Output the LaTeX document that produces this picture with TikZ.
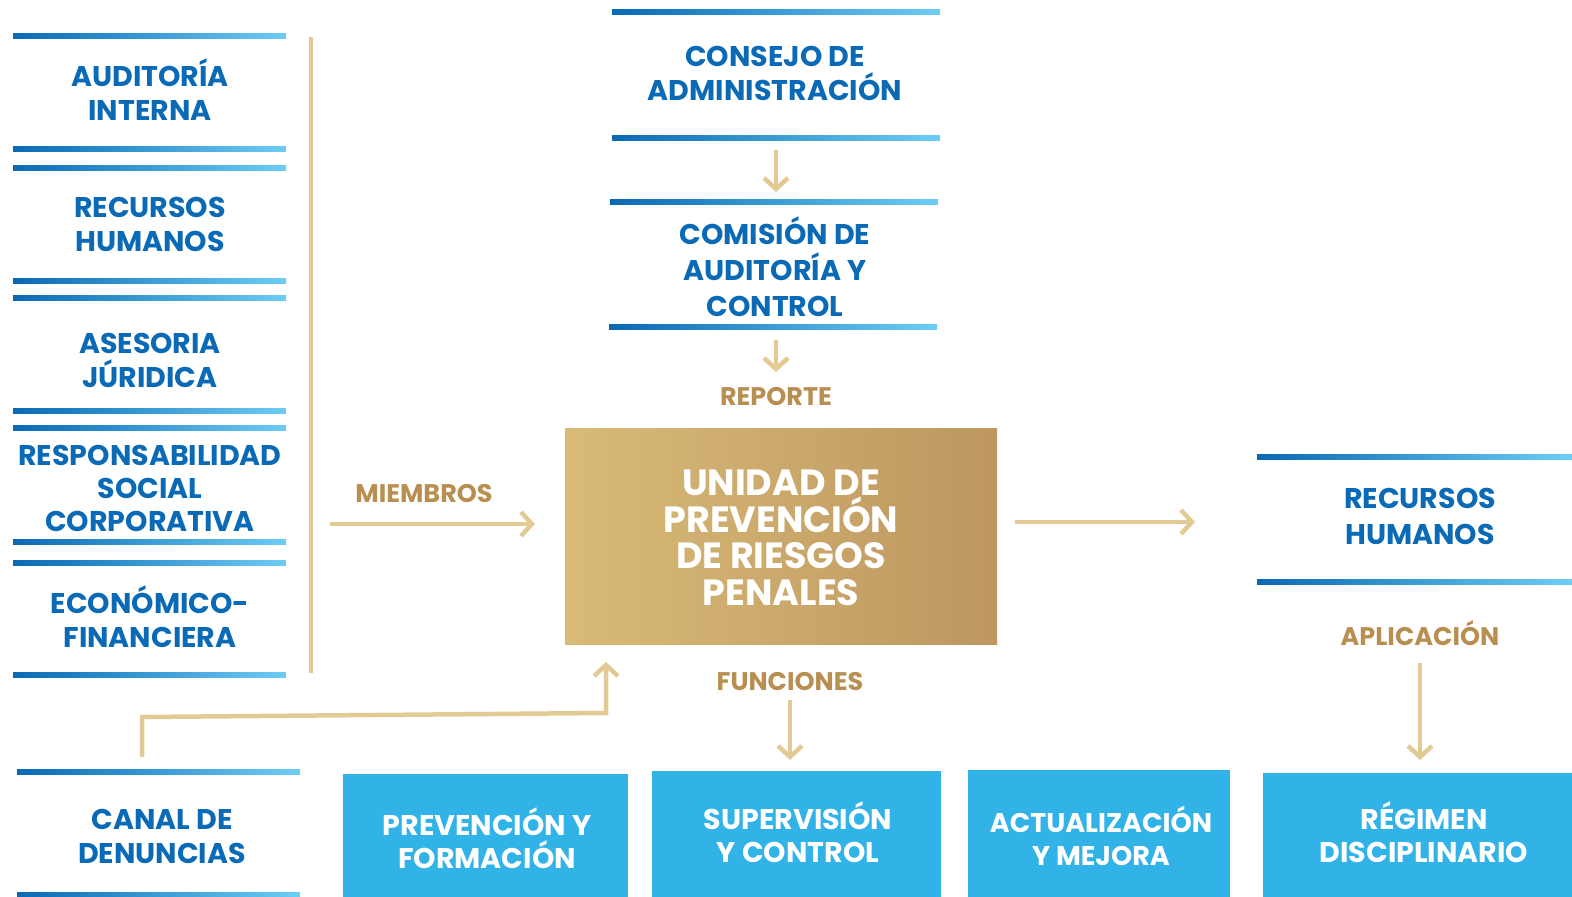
\documentclass[tikz,border=0pt]{standalone}
\usepackage{fontspec}
\setmainfont{Poppins}
\usetikzlibrary{arrows.meta}
\definecolor{tblue}{HTML}{0A6AB6}
\definecolor{tgold}{HTML}{B88F50}
\definecolor{gline}{HTML}{E2CA95}
\definecolor{barL}{HTML}{0A69B4}
\definecolor{barR}{HTML}{6CCDF5}
\definecolor{boxL}{HTML}{D8BB77}
\definecolor{boxR}{HTML}{BD9660}
\definecolor{cyanbox}{HTML}{31B3E8}
\tikzset{
  bluebar/.style={left color=barL,right color=barR,draw=none},
  goldline/.style={draw=gline,line width=4.5pt},
  goldarrow/.style={draw=gline,line width=4.5pt,-{Straight Barb[length=11pt,width=24pt]}},
  bluetxt/.style={text=tblue,font=\bfseries\fontsize{28.5}{34}\selectfont,align=center,inner sep=0pt},
  goldtxt/.style={text=tgold,font=\bfseries\fontsize{25.5}{28}\selectfont,inner sep=0pt},
  whitetxt/.style={text=white,font=\bfseries\fontsize{28.5}{33}\selectfont,align=center,inner sep=0pt},
  cbox/.style={fill=cyanbox,draw=none,anchor=north west,inner sep=0pt},
}
\begin{document}
\begin{tikzpicture}[x=1pt,y=-1pt]
\useasboundingbox (0,0) rectangle (1572,897);

% ---- left column bars
\foreach \t in {33,146,165,278,295,408,425,539,560,672}
  \shade[bluebar] (13,\t) rectangle (286,\t+5);
\node[bluetxt] (audint) at (150,90) {AUDITORÍA\\INTERNA};
\node[bluetxt] (rrhh) at (150,224) {RECURSOS\\HUMANOS};
\node[bluetxt] (ases) at (150,360) {ASESORIA\\JÚRIDICA};
\node[bluetxt,font=\bfseries\fontsize{28.5}{33}\selectfont] (rsc) at (150,488) {RESPONSABILIDAD\\SOCIAL\\CORPORATIVA};
\node[bluetxt] (econ) at (150,617) {ECONÓMICO-\\FINANCIERA};

% gold vertical bracket line
\coordinate (vtop) at (311,37);
\coordinate (vbot) at (311,673);
\draw[goldline] (vtop) -- (vbot);

% miembros
\node[goldtxt] (miem) at (424,494) {MIEMBROS};
\coordinate (m1) at (330,524);
\coordinate (m2) at (535,524);
\draw[goldarrow] (m1) -- (m2);

% ---- top center
\shade[bluebar] (612,9) rectangle (940,14);
\shade[bluebar] (612,135) rectangle (940,140);
\node[bluetxt] (consejo) at (775,73) {CONSEJO DE\\ADMINISTRACIÓN};
\coordinate (a1s) at (776,150);
\coordinate (a1e) at (776,192);
\draw[goldarrow] (a1s) -- (a1e);
\shade[bluebar] (610,199) rectangle (938,204);
\node[bluetxt,font=\bfseries\fontsize{28.5}{36}\selectfont] (comision) at (775,267) {COMISIÓN DE\\AUDITORÍA Y\\CONTROL};
\shade[bluebar] (609,324) rectangle (937,329);
\coordinate (a2s) at (776,340);
\coordinate (a2e) at (776,372);
\draw[goldarrow] (a2s) -- (a2e);
\node[goldtxt] (reporte) at (776,397) {REPORTE};

% ---- main box
\node[anchor=north west,minimum width=432pt,minimum height=216pt,inner sep=0pt,
      left color=boxL,right color=boxR,draw=none] (upr) at (565,428) {};
\node[text=white,font=\bfseries\fontsize{36.5}{36.5}\selectfont,align=center,inner sep=0pt] (uprtxt) at (781,538)
  {UNIDAD DE\\PREVENCIÓN\\DE RIESGOS\\PENALES};

% arrow to right
\coordinate (r1) at (1015,522);
\coordinate (r2) at (1195,522);
\draw[goldarrow] (r1) -- (r2);

% ---- right side
\shade[bluebar] (1257,454) rectangle (1572,459);
\shade[bluebar] (1257,579) rectangle (1572,584);
\node[bluetxt,font=\bfseries\fontsize{28.5}{36}\selectfont] (rrhh2) at (1420,516) {RECURSOS\\HUMANOS};
\node[goldtxt] (aplic) at (1420,633) {APLICACIÓN};
\coordinate (ap1) at (1420,663);
\coordinate (ap2) at (1420,760);
\draw[goldarrow] (ap1) -- (ap2);

% funciones
\node[goldtxt] (func) at (790,682) {FUNCIONES};
\coordinate (f1) at (790,700);
\coordinate (f2) at (790,760);
\draw[goldarrow] (f1) -- (f2);

% ---- canal de denuncias
\shade[bluebar] (17,769) rectangle (300,774);
\shade[bluebar] (17,892) rectangle (300,897);
\node[bluetxt] (canal) at (162,836) {CANAL DE\\DENUNCIAS};
\coordinate (c1) at (142,757);
\coordinate (c2) at (142,717);
\coordinate (c3) at (606,713);
\coordinate (c4) at (606,662);
\draw[goldarrow,line join=miter] (c1) -- (c2) -- (c3) -- (c4);

% ---- bottom boxes
\node[cbox,minimum width=285pt,minimum height=123pt] (prev) at (343,774) {};
\node[whitetxt] (prevt) at (487,838) {PREVENCIÓN Y\\FORMACIÓN};
\node[cbox,minimum width=289pt,minimum height=126pt] (sup) at (652,771) {};
\node[whitetxt] (supt) at (798,832) {SUPERVISIÓN\\Y CONTROL};
\node[cbox,minimum width=262pt,minimum height=127pt] (act) at (968,770) {};
\node[whitetxt,font=\bfseries\fontsize{27}{33}\selectfont] (actt) at (1101,836) {ACTUALIZACIÓN\\Y MEJORA};
\node[cbox,minimum width=309pt,minimum height=124pt] (reg) at (1263,773) {};
\node[whitetxt] (regt) at (1424,832) {RÉGIMEN\\DISCIPLINARIO};
\end{tikzpicture}
\end{document}
